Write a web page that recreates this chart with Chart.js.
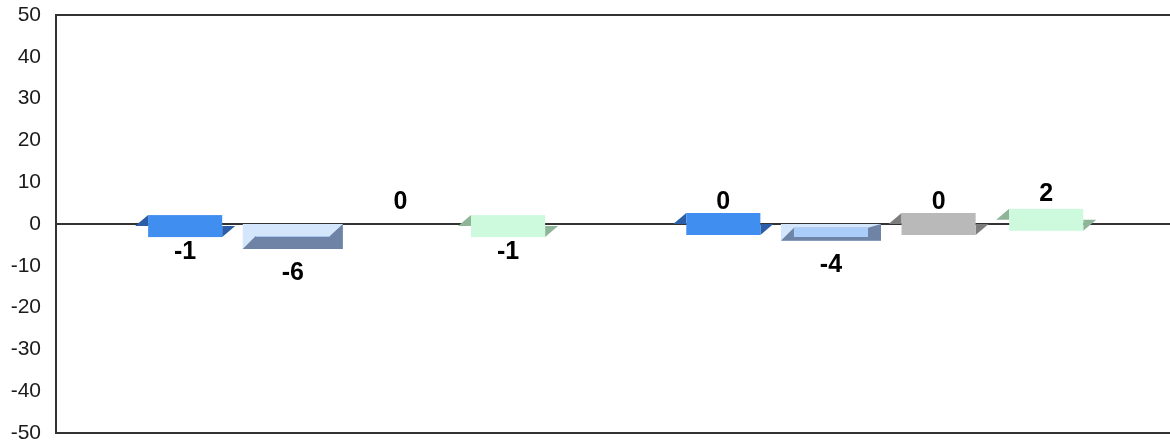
<!DOCTYPE html>
<html>
<head>
<meta charset="utf-8">
<script src="https://cdn.jsdelivr.net/npm/chart.js@4.4.1/dist/chart.umd.min.js"></script>
<style>
  html, body { margin: 0; padding: 0; background: #fff; }
  #wrap { width: 1170px; height: 444px; }
</style>
</head>
<body>
<div id="wrap"><canvas id="chart"></canvas></div>
<script>
const categories = ["Group 1", "Group 2"]
const seriesNames = ["Series 1", "Series 2", "Series 3", "Series 4"]
const series1 = [-1, 0]
const series2 = [-6, -4]
const series3 = [null, 0] // first point shows a "0" label but no bar
const series4 = [-1, 2]
const yTicks = [50, 40, 30, 20, 10, 0, -10, -20, -30, -40, -50]

const axisColor = "#333333"

// 3D-ish look of the original: each bar gets a front face plus darker bevels
const depthBars = {
  id: "depthBars",
  afterDatasetsDraw(chart) {
    const { ctx } = chart
    const yScale = chart.scales.y
    const zero = yScale.getPixelForValue(0)
    const k = 13

    chart.data.datasets.forEach((ds, di) => {
      const meta = chart.getDatasetMeta(di)
      meta.data.forEach((bar, i) => {
        const v = ds.data[i].y
        const yv = yScale.getPixelForValue(v ?? 0)
        const xl = bar.x - bar.width / 2
        const xr = bar.x + bar.width / 2

        ctx.save()
        if (v !== null) {
          if (ds.look === "tray") {
            const top = Math.min(zero, yv)
            const bottom = Math.max(zero, yv)
            ctx.fillStyle = ds.faceColor
            ctx.fillRect(xl, top, xr - xl, bottom - top)
            ctx.fillStyle = ds.sideColor
            ctx.beginPath()
            ctx.moveTo(xl, bottom)
            ctx.lineTo(xl + k, bottom - k)
            ctx.lineTo(xr - k, bottom - k)
            ctx.lineTo(xr, top)
            ctx.lineTo(xr, bottom)
            ctx.closePath()
            ctx.fill()
            if (top + k > bottom - k) {
              ctx.fillStyle = ds.innerColor
              ctx.fillRect(xl + k, bottom - k, xr - xl - 2 * k, top + k - (bottom - k))
            }
          } else {
            const mid = (yv + zero) / 2
            const half = Math.max(Math.abs(yv - zero), 22) / 2
            const top = mid - half
            const bottom = mid + half
            ctx.fillStyle = ds.sideColor
            ctx.beginPath()
            ctx.moveTo(xl, mid)
            ctx.lineTo(xl + k, top)
            ctx.lineTo(xl + k, mid)
            ctx.closePath()
            ctx.fill()
            ctx.beginPath()
            ctx.moveTo(xr - k, mid)
            ctx.lineTo(xr, mid)
            ctx.lineTo(xr - k, bottom)
            ctx.closePath()
            ctx.fill()
            ctx.fillStyle = ds.faceColor
            ctx.fillRect(xl + k, top, xr - xl - 2 * k, bottom - top)
          }
        }

        ctx.fillStyle = "#000"
        ctx.font = "bold 25px 'Liberation Sans', Arial, sans-serif"
        ctx.textAlign = "center"
        ctx.textBaseline = "middle"
        const labelY = (v ?? 0) < 0 ? yv + 24 : yv - 22
        ctx.fillText(String(v ?? 0), bar.x, labelY)
        ctx.restore()
      })
    })
  },
}

const toPoints = values => values.map((v, i) => ({ x: i, y: v }))

const looks = [
  { look: "ribbon", faceColor: "#3f8ef0", sideColor: "#2b5ea6" },
  { look: "tray", faceColor: "#d4e6fb", sideColor: "#6e83a6", innerColor: "#a9ccf8" },
  { look: "ribbon", faceColor: "#b9b9b9", sideColor: "#7d7d7d" },
  { look: "ribbon", faceColor: "#cdfadd", sideColor: "#8fb599" },
]

const allSeries = [series1, series2, series3, series4]

new Chart(document.getElementById("chart"), {
  type: "bar",
  data: {
    datasets: allSeries.map((values, i) => ({
      label: seriesNames[i],
      data: toPoints(values),
      backgroundColor: "rgba(0,0,0,0)",
      borderWidth: 0,
      categoryPercentage: 0.8,
      barPercentage: 0.93,
      ...looks[i],
    })),
  },
  options: {
    responsive: true,
    maintainAspectRatio: false,
    animation: false,
    layout: { padding: { top: 15, bottom: 11, left: 0, right: 0 } },
    scales: {
      x: {
        type: "linear",
        display: false,
        offset: false,
        min: -0.54,
        max: 1.53,
        afterBuildTicks: axis => { axis.ticks = categories.map((_, i) => ({ value: i })) },
      },
      y: {
        min: -50,
        max: 50,
        afterBuildTicks: axis => { axis.ticks = yTicks.map(v => ({ value: v })) },
        afterFit: axis => {
          axis.width = 56
          axis.paddingTop = 0
          axis.paddingBottom = 0
        },
        border: { display: true, color: axisColor, width: 2 },
        grid: {
          drawTicks: false,
          lineWidth: 2,
          color: c => ([50, 0, -50].includes(c.tick.value) ? axisColor : "rgba(0,0,0,0)"),
        },
        ticks: {
          padding: 15,
          color: "#1a1a1a",
          font: { family: "'Liberation Sans', Arial, sans-serif", size: 21 },
        },
      },
    },
    plugins: {
      legend: { display: false },
      tooltip: { enabled: false },
    },
  },
  plugins: [depthBars],
})
</script>
</body>
</html>
